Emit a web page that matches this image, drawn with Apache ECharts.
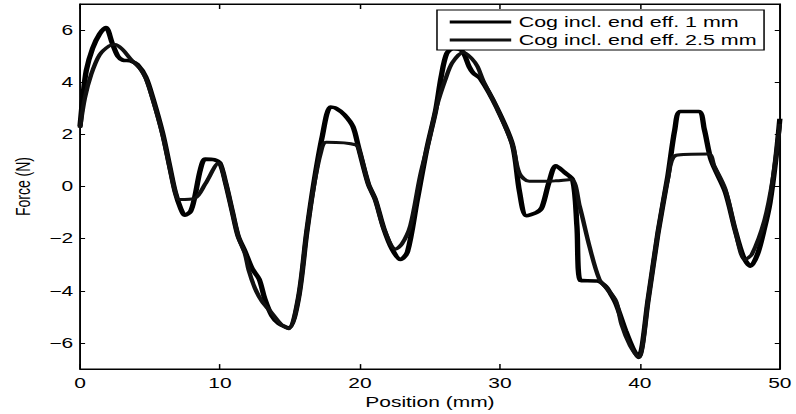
<!DOCTYPE html>
<html>
<head>
<meta charset="utf-8">
<script src="https://cdn.jsdelivr.net/npm/echarts@6/dist/echarts.min.js"></script>
<style>
  html, body { margin: 0; padding: 0; background: #fff; }
  #wrap { width: 796px; height: 414px; overflow: hidden; }
  /* the figure is laid out narrow and widened, as in the printed plot */
  #chart { width: 531px; height: 414px; transform: scaleX(1.4991); transform-origin: 0 0; }
</style>
</head>
<body>
<div id="wrap"><div id="chart"></div></div>
<script>
// Cogging force along the stroke, two end-effect lengths
const seriesNames = ['Cog incl. end eff. 1 mm', 'Cog incl. end eff. 2.5 mm'];

const pos1 = [0, 0.2, 0.45, 0.9, 1.4, 1.85, 2.3, 2.7, 3.05, 3.6, 4.1, 4.7, 5.2, 5.9, 6.4, 6.8, 7.2, 7.5, 7.9, 8.2,
  8.6, 8.95, 9.6, 10.0, 10.4, 10.9, 11.3, 11.8, 12.3, 12.8, 13.2, 13.7, 14.2, 14.9, 15.6, 16.2, 16.7, 17.3, 17.9, 18.3,
  18.9, 19.5, 19.9, 20.6, 21.1, 21.7, 22.3, 22.9, 23.4, 24.1, 24.8, 25.4, 25.8, 26.2, 26.7, 27.3, 27.8, 28.1, 28.6, 29.8,
  30.9, 31.4, 31.9, 32.6, 33.0, 33.5, 34.0, 34.6, 35.2, 35.5, 35.75, 36.95, 37.5, 37.9, 38.3, 39.0, 39.5, 39.9, 40.6, 41.3,
  42.0, 42.5, 42.9, 44.2, 44.6, 45.1, 46.1, 46.8, 47.4, 47.9, 48.4, 48.9, 49.3, 49.7, 50];
const force1 = [2.3, 3.4, 4.45, 5.3, 5.85, 6.1, 5.5, 5.0, 4.85, 4.82, 4.68, 4.2, 3.4, 2.05, 0.8, -0.2, -0.85, -1.1, -0.95, -0.4,
  0.65, 1.05, 1.03, 0.9, 0.15, -1.0, -1.9, -2.5, -3.15, -3.55, -4.3, -4.95, -5.25, -5.42, -4.3, -1.75, 0.1, 1.9, 3.05, 3.0,
  2.75, 2.3, 1.5, 0.1, -0.5, -1.6, -2.4, -2.8, -2.5, -0.5, 1.5, 2.9, 4.2, 5.1, 5.3, 5.2, 4.6, 4.35, 4.14, 3.0,
  1.6, -0.2, -1.12, -1.0, -0.8, 0.15, 0.8, 0.55, 0.25, -1.5, -3.6, -3.62, -3.8, -4.1, -4.5, -5.55, -6.2, -6.55, -4.3, -1.75,
  0.4, 2.2, 2.88, 2.88, 2.2, 1.0, -0.2, -1.65, -2.7, -3.05, -2.6, -1.6, -0.6, 1.0, 2.6];

const pos2 = [0, 0.35, 0.8, 1.4, 2.1, 2.5, 3.05, 3.6, 4.25, 4.7, 5.2, 5.9, 6.4, 6.8, 7.1, 8.2, 8.95, 9.9, 10.4, 10.9,
  11.3, 11.8, 12.05, 12.5, 13.0, 13.7, 14.4, 14.9, 15.6, 16.2, 16.7, 17.2, 17.6, 19.7, 20.0, 20.6, 21.1, 21.7, 22.55, 23.0,
  23.6, 24.3, 24.9, 25.5, 26.1, 26.6, 27.4, 28.0, 28.4, 28.8, 29.8, 30.9, 31.4, 32.1, 33.3, 34.0, 35.1, 35.7, 36.4, 37.1,
  37.7, 38.3, 38.7, 39.3, 39.9, 40.6, 41.3, 42.0, 42.6, 44.9, 45.3, 46.1, 46.8, 47.5, 48.0, 48.9, 49.5, 50];
const force2 = [2.25, 3.4, 4.3, 5.05, 5.4, 5.45, 5.25, 4.9, 4.55, 4.15, 3.35, 2.0, 0.75, -0.2, -0.5, -0.45, 0.1, 0.9, 0.15, -1.0,
  -1.9, -2.6, -3.2, -3.9, -4.4, -4.85, -5.3, -5.45, -4.3, -1.75, 0.0, 1.3, 1.7, 1.6, 1.3, 0.1, -0.5, -1.6, -2.4, -2.2,
  -1.5, 0.4, 1.7, 3.1, 4.1, 4.75, 5.15, 4.9, 4.6, 4.07, 3.0, 1.6, 0.5, 0.2, 0.2, 0.22, 0.27, -0.76, -2.3, -3.55,
  -3.95, -4.4, -5.3, -6.1, -6.55, -4.3, -1.75, 0.3, 1.2, 1.25, 0.8, -0.1, -1.65, -2.8, -2.6, -1.3, 0.3, 2.4];

const xTicks = [0, 10, 20, 30, 40, 50];
const yTicks = [-6, -4, -2, 0, 2, 4, 6];

const pairs = (xs, ys) => xs.map((x, i) => [x, ys[i]]);
const FONT = 'Liberation Sans, Arial, Helvetica, sans-serif';
const fmtNum = v => (v < 0 ? '\u2212' + Math.abs(v) : String(v));

const chart = echarts.init(document.getElementById('chart'), null, { renderer: 'svg' });

const baseX = {
  type: 'value', min: 0, max: 50, interval: 10,
  axisLine: { show: true, onZero: false, lineStyle: { color: '#000', width: 1 } },
  axisTick: { show: true, inside: true, length: 5, lineStyle: { color: '#000' }, customValues: xTicks },
  splitLine: { show: false }
};
const baseY = {
  type: 'value', min: -7, max: 7,
  axisLine: { show: true, onZero: false, lineStyle: { color: '#000', width: 1 } },
  axisTick: { show: true, inside: true, length: 3.4, lineStyle: { color: '#000' }, customValues: yTicks },
  splitLine: { show: false }
};

chart.setOption({
  animation: false,
  backgroundColor: '#fff',
  grid: { show: true, borderColor: '#000', borderWidth: 1, backgroundColor: 'transparent',
    left: 51.4, right: 9.7, top: 4, bottom: 44, containLabel: false },
  legend: {
    data: seriesNames,
    orient: 'vertical',
    left: 291.5, top: 10,
    backgroundColor: '#fff',
    borderColor: '#000', borderWidth: 1, borderRadius: 0,
    padding: [5, 5, 3, 8.5],
    itemWidth: 41, itemHeight: 14, itemGap: 4,
    icon: 'path://M0,5.5 L41,5.5 L41,8.5 L0,8.5 Z',
    textStyle: { fontFamily: FONT, fontSize: 14.3, color: '#000', padding: [0, 0, 0, 0] },
    z: 10
  },
  xAxis: [
    Object.assign({}, baseX, {
      position: 'bottom',
      name: 'Position (mm)', nameLocation: 'middle', nameGap: 20,
      nameTextStyle: { fontFamily: FONT, fontSize: 14, color: '#000' },
      axisLabel: { fontFamily: FONT, fontSize: 14, color: '#000', margin: 7, customValues: xTicks }
    }),
    Object.assign({}, baseX, { position: 'top', axisLabel: { show: false } })
  ],
  yAxis: [
    Object.assign({}, baseY, {
      position: 'left',
      name: 'Force (N)', nameLocation: 'middle', nameGap: 30, nameRotate: 90,
      nameTextStyle: { fontFamily: FONT, fontSize: 14, color: '#000' },
      axisLabel: { fontFamily: FONT, fontSize: 14, color: '#000', margin: 4.5,
        customValues: yTicks, formatter: fmtNum }
    }),
    Object.assign({}, baseY, { position: 'right', axisLabel: { show: false } })
  ],
  series: [
    {
      name: seriesNames[0], type: 'line', xAxisIndex: 0, yAxisIndex: 0,
      data: pairs(pos1, force1), symbol: 'none', smooth: 0.3,
      lineStyle: { color: '#000', width: 3.6 }, itemStyle: { color: '#000' }
    },
    {
      name: seriesNames[1], type: 'line', xAxisIndex: 0, yAxisIndex: 0,
      data: pairs(pos2, force2), symbol: 'none', smooth: 0.3,
      lineStyle: { color: '#111', width: 3.0 }, itemStyle: { color: '#111' }
    }
  ]
});
</script>
</body>
</html>
